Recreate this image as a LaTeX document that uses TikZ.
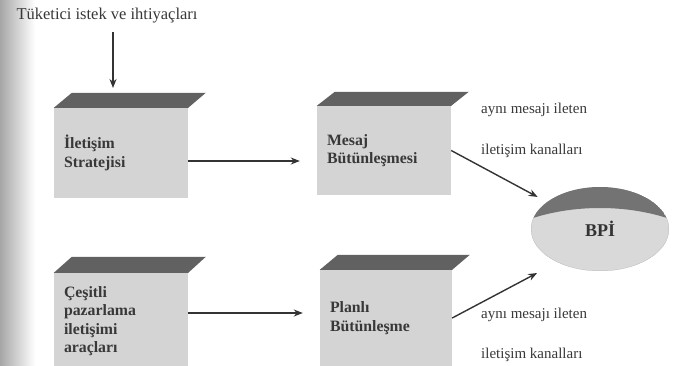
\documentclass[tikz,border=0pt]{standalone}
\usepackage{fontspec}
\setmainfont{Liberation Serif}
\usetikzlibrary{shapes.geometric,arrows.meta}
\begin{document}
\begin{tikzpicture}[x=1pt,y=-1pt,
  face/.style={rectangle, fill=black!17, draw=none, minimum width=134pt,
    inner xsep=10pt, inner ysep=0pt, text width=114pt, align=left,
    font=\fontsize{15.8}{18.5}\selectfont\bfseries, text=black!78},
  roof/.style={fill=black!62},
  conn/.style={draw=black!80, line width=1.4pt, -{Stealth[length=9pt,width=7pt]}},
  lbl/.style={font=\fontsize{15}{18}\selectfont, text=black!78, anchor=base west, inner sep=0pt},
]
\useasboundingbox (0,0) rectangle (673,366);
\shade[left color=black!35,right color=white] (0,0) rectangle (35,366);

% top text and arrow
\node[lbl, anchor=base, font=\fontsize{16.5}{19}\selectfont] (tt) at (107,20) {Tüketici istek ve ihtiyaçları};
\coordinate (r1) at (113,88);
\draw[conn, shorten <=8pt] (tt.south -| r1) -- (r1);

% boxes
\node[face, minimum height=90pt] (b1) at (121,153) {İletişim\\Stratejisi};
\fill[roof] (b1.north west) -- ++(18,-15) -- ++(134,0) -- (b1.north east) -- cycle;

\node[face, minimum height=89pt] (b2) at (384,150.5) {Mesaj\\Bütünleşmesi};
\fill[roof] (b2.north west) -- ++(18,-14) -- ++(134,0) -- (b2.north east) -- cycle;

\node[face, minimum height=96pt] (b3) at (121,321) {Çeşitli\\pazarlama\\iletişimi\\araçları};
\fill[roof] (b3.north west) -- ++(18,-16) -- ++(134,0) -- (b3.north east) -- cycle;

\node[face, minimum height=96pt, minimum width=132pt, text width=112pt] (b4) at (386,318) {Planlı\\Bütünleşme};
\fill[roof] (b4.north west) -- ++(18,-15) -- ++(132,0) -- (b4.north east) -- cycle;

% BPI disc
\node[ellipse, fill=black!15, minimum width=138pt, minimum height=84pt, inner sep=0pt,
  font=\fontsize{18}{20}\selectfont\bfseries, text=black!80] (bpi) at (600,229) {BPİ};
\begin{scope}
  \clip (600,229) ellipse [x radius=69, y radius=42];
  \fill[black!55, even odd rule] (600,229) ellipse [x radius=69, y radius=42]
    (600,303) ellipse [x radius=150, y radius=95];
\end{scope}

% right labels
\node[lbl] (l1) at (481,114) {aynı mesajı ileten};
\node[lbl] (l2) at (481,155) {iletişim kanalları};
\node[lbl] (l3) at (481,319) {aynı mesajı ileten};
\node[lbl] (l4) at (481,359) {iletişim kanalları};

% connectors
\draw[conn, shorten >=17pt] ([yshift=-8pt]b1.east) -- ([yshift=-8pt]b1.east -| b2.west);
\draw[conn, shorten >=17pt] ([yshift=8pt]b3.east) -- ([yshift=8pt]b3.east -| b4.west);
\draw[conn, shorten >=10.5pt] (b2.east) -- (bpi.153);
\draw[conn, shorten >=23pt] (b4.east) -- (bpi.218);
\end{tikzpicture}
\end{document}
